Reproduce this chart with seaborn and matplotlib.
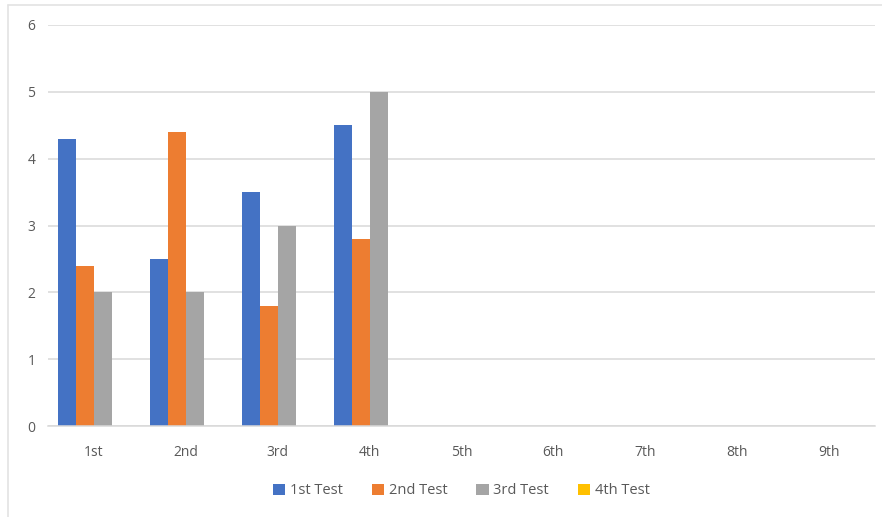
import matplotlib
matplotlib.use("Agg")
import matplotlib.pyplot as plt
from matplotlib.lines import Line2D
from matplotlib.patches import Patch
import numpy as np
import pandas as pd
import seaborn as sns

# Data
categories = ["1st", "2nd", "3rd", "4th", "5th", "6th", "7th", "8th", "9th"]
series = ["1st Test", "2nd Test", "3rd Test", "4th Test"]
test1 = [4.3, 2.5, 3.5, 4.5]
test2 = [2.4, 4.4, 1.8, 2.8]
test3 = [2.0, 2.0, 3.0, 5.0]
test4 = []
colors = ["#4472C4", "#ED7D31", "#A5A5A5", "#FFC000"]

rows = []
for name, vals in zip(series, [test1, test2, test3, test4]):
    for cat, v in zip(categories, vals):
        rows.append({"category": cat, "series": name, "value": v})
df = pd.DataFrame(rows)

sns.set_theme(style="white")
plt.rcParams["font.family"] = ["Open Sans", "DejaVu Sans"]

fig = plt.figure(figsize=(8.82, 5.17), dpi=100)
ax = fig.add_axes([48 / 882, 1 - 426 / 517, (875 - 48) / 882, (426 - 25) / 517])

sns.barplot(
    data=df, x="category", y="value", hue="series",
    order=categories, hue_order=series, palette=colors,
    width=0.78, dodge=True, gap=0, errorbar=None,
    saturation=1, linewidth=0, ax=ax, legend=False,
)

ax.set_xlim(-0.5, len(categories) - 0.5)
ax.set_ylim(0, 6)
ax.set_yticks(range(0, 7))
ax.yaxis.grid(True, color="#D9D9D9", linewidth=1.1)
ax.set_axisbelow(True)
for side in ["left", "right", "top"]:
    ax.spines[side].set_visible(False)
ax.spines["bottom"].set_color("#D9D9D9")
ax.spines["bottom"].set_linewidth(1.1)
ax.set_xlabel("")
ax.set_ylabel("")
ax.tick_params(axis="x", length=0, pad=14, labelsize=10, labelcolor="#595959")
ax.tick_params(axis="y", length=0, pad=9, labelsize=10, labelcolor="#595959")

handles = [Patch(facecolor=c, edgecolor="none") for c in colors]
fig.legend(
    handles, series, loc="center", bbox_to_anchor=(0.523, 1 - 491 / 517),
    ncol=4, frameon=False, fontsize=10.5, labelcolor="#595959",
    handlelength=0.85, handleheight=0.85, handletextpad=0.3, columnspacing=2.0,
)

# Outer chart frame (left and top edges)
fig.add_artist(Line2D([8 / 882, 8 / 882], [0, 1 - 5 / 517], color="#E3E3E3", linewidth=1.2))
fig.add_artist(Line2D([8 / 882, 1], [1 - 5 / 517, 1 - 5 / 517], color="#E3E3E3", linewidth=1.2))

fig.savefig("out.png", dpi=100, facecolor="white")
